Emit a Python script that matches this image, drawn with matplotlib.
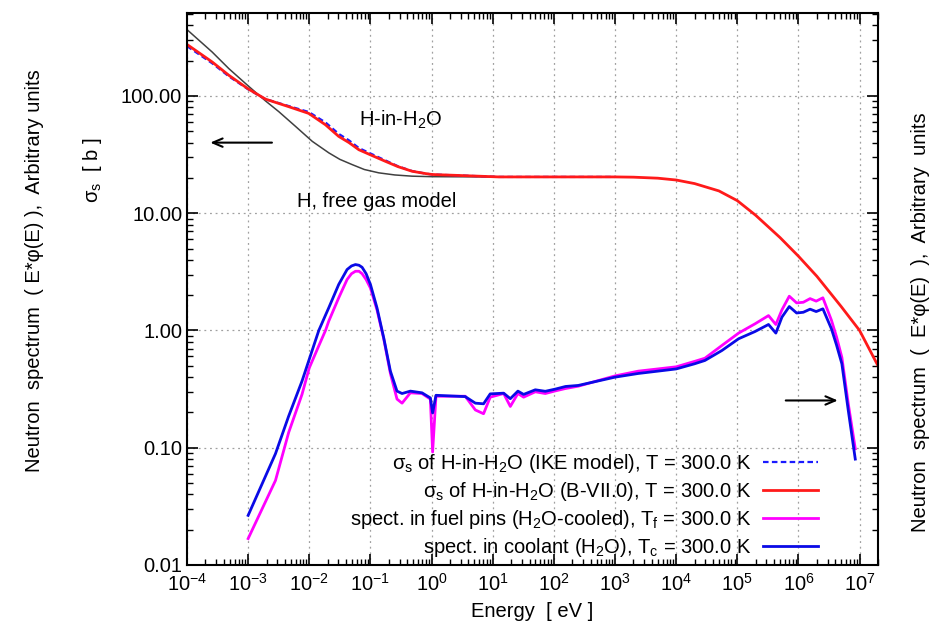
import matplotlib
matplotlib.use("Agg")
import matplotlib.pyplot as plt
from matplotlib.ticker import LogLocator, NullFormatter, FixedLocator, FixedFormatter

plt.rcParams['font.family'] = ['Liberation Sans', 'DejaVu Sans']
plt.rcParams['mathtext.default'] = 'regular'

# sigma_s of H-in-H2O, ENDF/B-VII.0 (barn)
e_xs = [1e-4, 2.58e-4, 4.84e-4, 1e-3, 1.92e-3, 4.62e-3, 9.8e-3, 1.84e-2, 3.03e-2,
        4.47e-2, 6.46e-2, 0.107, 0.176, 0.28, 0.479, 0.79, 1.02, 12.6, 1e2, 1e3,
        2e3, 5e3, 1e4, 2e4, 5e4, 1e5, 2e5, 5e5, 1e6, 2e6, 5e6, 1e7, 2e7]
xs_b7 = [275, 195, 150, 115, 94, 81, 71, 56.8, 45.2, 40.0, 34.8, 31.0, 27.7, 25.0,
         22.8, 21.8, 21.4, 20.4, 20.4, 20.4, 20.3, 19.9, 19.2, 17.9, 15.5, 12.8, 9.6,
         6.2, 4.3, 2.9, 1.6, 1.0, 0.5]
# sigma_s of H-in-H2O, IKE model (barn)
e_ike = [1e-4, 2.58e-4, 4.84e-4, 1e-3, 1.92e-3, 4.62e-3, 9.8e-3, 1.84e-2, 3.03e-2,
         4.47e-2, 6.46e-2, 0.107, 0.176, 0.28, 0.479, 0.79, 1.02, 12.6, 1e2, 1e3]
xs_ike = [266, 190, 147, 114, 94, 82, 73, 59.5, 47.5, 41.8, 36.0, 31.8, 28.2, 25.2,
          22.9, 21.8, 21.4, 20.4, 20.4, 20.4]
# free gas model for H (barn)
e_fg = [1e-4, 2.58e-4, 4.84e-4, 1e-3, 1.92e-3, 3.16e-3, 5.96e-3, 1.12e-2, 2.09e-2,
        3.16e-2, 5.01e-2, 7.94e-2, 0.137, 0.251, 0.479, 1.0, 10, 100]
xs_fg = [368, 237, 171, 122, 90.8, 73.6, 55, 41, 32.7, 28.8, 26, 23.6, 22.1, 21.2,
         20.7, 20.5, 20.4, 20.4]

# neutron spectra E*phi(E), arbitrary units
e_sp = [1e-3, 2.8e-3, 4.6e-3, 7.6e-3, 1e-2, 1.43e-2, 1.84e-2, 2.08e-2, 3.03e-2,
        4.15e-2, 4.9e-2, 5.69e-2, 6.5e-2, 7.3e-2, 8.5e-2, 0.1, 0.128, 0.165, 0.212,
        0.272, 0.329, 0.45, 0.697, 0.955, 1.04, 1.18, 3.55, 5.2, 7.08, 9.1, 15.1,
        19.4, 25.8, 32.0, 49.7, 72.4, 105, 155, 251, 1e3, 2.4e3, 5e3, 1e4, 2e4,
        2.95e4, 5.6e4, 1.05e5, 1.95e5, 3.24e5, 4.27e5, 5.37e5, 7.08e5, 9.33e5,
        1.2e6, 1.55e6, 1.95e6, 2.51e6, 3.47e6, 4.2e6, 5.13e6, 6.53e6, 8.5e6]
sp_fuel = [0.0168, 0.0526, 0.135, 0.285, 0.48, 0.74, 1.0, 1.2, 1.90,
           2.72, 3.05, 3.2, 3.2, 3.05, 2.72, 2.30, 1.50, 0.85, 0.43,
           0.26, 0.24, 0.294, 0.29, 0.26, 0.092, 0.275, 0.275, 0.21, 0.195, 0.27, 0.29,
           0.225, 0.29, 0.27, 0.30, 0.29, 0.305, 0.32, 0.335, 0.41, 0.45, 0.47, 0.49, 0.545,
           0.58, 0.745, 0.95, 1.14, 1.34, 1.125, 1.50, 1.96, 1.72,
           1.74, 1.87, 1.78, 1.90, 1.22, 0.88, 0.59, 0.237, 0.098]
sp_cool = [0.0265, 0.089, 0.186, 0.37, 0.57, 1.0, 1.35, 1.56, 2.47,
           3.31, 3.55, 3.65, 3.6, 3.46, 3.05, 2.47, 1.56, 0.865, 0.45,
           0.304, 0.29, 0.304, 0.294, 0.266, 0.198, 0.28, 0.273, 0.24, 0.237, 0.288, 0.292,
           0.262, 0.304, 0.285, 0.312, 0.303, 0.316, 0.333, 0.34, 0.40, 0.43, 0.45, 0.47, 0.52,
           0.555, 0.675, 0.85, 0.98, 1.125, 0.95, 1.30, 1.60, 1.41,
           1.43, 1.52, 1.45, 1.53, 1.03, 0.75, 0.52, 0.208, 0.080]

fs = 14.5
fig = plt.figure(figsize=(9.32, 6.3), dpi=100)
ax = fig.add_axes([187 / 932, 65 / 630, 691 / 932, 552 / 630])

ax.plot(e_fg, xs_fg, color='#404040', lw=1.1)
ax.plot(e_ike, xs_ike, color='#1a1aff', lw=1.6, ls=(0, (2.5, 1.5)),
        label=r'σ$_s$ of H-in-H$_2$O (IKE model), T = 300.0 K')
ax.plot(e_xs, xs_b7, color='#ff1a1a', lw=2.0,
        label=r'σ$_s$ of H-in-H$_2$O (B-VII.0), T = 300.0 K')
ax.plot(e_sp, sp_fuel, color='#ff00ff', lw=2.0,
        label=r'spect. in fuel pins (H$_2$O-cooled), T$_f$ = 300.0 K')
ax.plot(e_sp, sp_cool, color='#0a0ae6', lw=2.0,
        label=r'spect. in coolant (H$_2$O), T$_c$ = 300.0 K')

ax.set_xscale('log')
ax.set_yscale('log')
ax.set_xlim(1e-4, 2e7)
ax.set_ylim(0.01, 510)

ax.xaxis.set_major_locator(LogLocator(base=10, numticks=20))
ax.xaxis.set_minor_locator(LogLocator(base=10, subs=range(2, 10), numticks=50))
ax.xaxis.set_minor_formatter(NullFormatter())
yt = [0.01, 0.1, 1, 10, 100]
ax.yaxis.set_major_locator(FixedLocator(yt))
ax.yaxis.set_major_formatter(FixedFormatter(['0.01', '0.10', '1.00', '10.00', '100.00']))
ax.yaxis.set_minor_locator(LogLocator(base=10, subs=range(2, 10), numticks=50))
ax.yaxis.set_minor_formatter(NullFormatter())

ax.tick_params(which='both', direction='in', top=True, right=True, labelsize=fs)
ax.tick_params(axis='x', pad=6)
ax.tick_params(which='major', length=8, width=1.2)
ax.tick_params(which='minor', length=4, width=1.0)
for s in ax.spines.values():
    s.set_linewidth(1.5)
ax.grid(True, which='major', color='#a0a0a0', ls=(0, (1.5, 3)), lw=0.9)

ax.set_xlabel('Energy  [ eV ]', fontsize=fs, labelpad=5)
fig.text(35 / 932, 1 - 271 / 630, 'Neutron  spectrum  ( E*φ(E) ),  Arbitrary units',
         rotation=90, ha='center', va='center', fontsize=fs)
fig.text(92 / 932, 1 - 170 / 630, r'σ$_s$  [ b ]', rotation=90,
         ha='center', va='center', fontsize=fs)
fig.text(920 / 932, 1 - 322 / 630, 'Neutron  spectrum  (  E*φ(E)  ),  Arbitrary  units',
         rotation=90, ha='center', va='center', fontsize=fs)

ax.text(6.5e-2, 63, r'H-in-H$_2$O', fontsize=fs, ha='left', va='center')
ax.text(6.2e-3, 12.7, 'H, free gas model', fontsize=fs, ha='left', va='center')
arrow = dict(arrowstyle='->,head_length=0.7,head_width=0.3', color='black', lw=1.5,
             shrinkA=0, shrinkB=0)
ax.annotate('', xy=(2.4e-4, 40), xytext=(2.45e-3, 40), arrowprops=arrow)
ax.annotate('', xy=(4.4e6, 0.253), xytext=(6.2e5, 0.253), arrowprops=arrow)

leg = ax.legend(loc='lower right', markerfirst=False, frameon=False, fontsize=fs,
                handlelength=2.75, handletextpad=0.55, labelspacing=0.25,
                borderaxespad=0, borderpad=0, bbox_to_anchor=(0.913, 0.01))

fig.savefig('out.png', dpi=100)
